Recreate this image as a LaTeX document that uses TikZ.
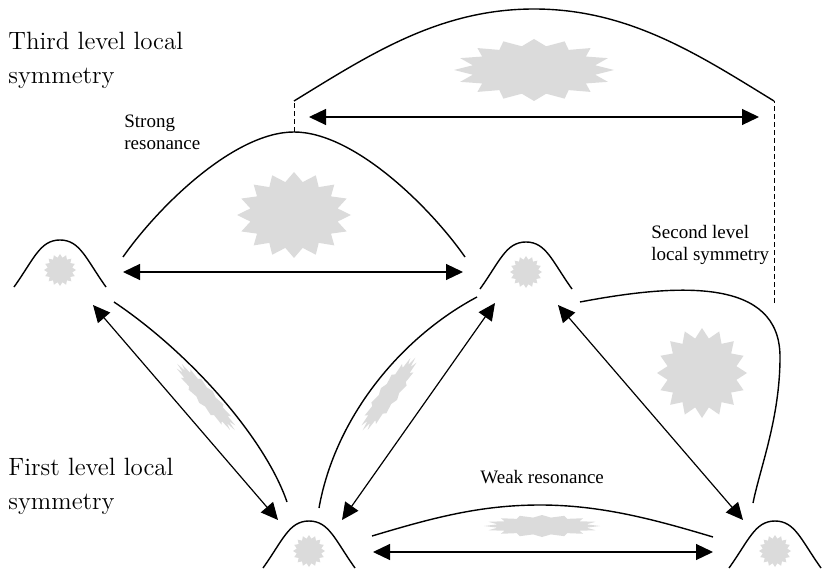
\documentclass[tikz,border=0pt]{standalone}
\usepackage{fontspec}
\newfontfamily\lblfont{Liberation Serif}
\usetikzlibrary{arrows.meta,calc}
\tikzset{
	curve/.style={line width=0.7pt},
	link/.style={line width=0.6pt,{Triangle[length=8.5pt,width=8pt]}-{Triangle[length=8.5pt,width=8pt]}},
	bound/.style={line width=0.5pt,dash pattern=on 2.5pt off 1.5pt},
	blobfill/.style={fill=gray!28},
	biglbl/.style={anchor=north west,inner sep=0pt,align=left,font=\fontsize{12.5}{17}\selectfont},
	smalllbl/.style={anchor=north west,inner sep=0pt,align=left,font=\lblfont\fontsize{9.5}{11}\selectfont},
	blob/.pic={\fill[blobfill] (0:1) \foreach \k in {1,...,31}{ -- ({11.25*\k}:{1-0.22*mod(\k,2)})} -- cycle;},
	hill/.pic={\draw[curve] (-46,-47) .. controls +(20,28) and +(-20,0) .. (0,0) .. controls +(20,0) and +(-20,28) .. (46,-47);
		\pic[scale=16] at (0,-30) {blob};}
}

\begin{document}
\begin{tikzpicture}[x=0.5pt,y=0.5pt]
	\useasboundingbox (0,0) rectangle (823,568);
	\coordinate (pa) at (60,328);
	\coordinate (pb) at (526,326);
	\coordinate (pc) at (309,47);
	\coordinate (pd) at (775,47);
	\coordinate (sr) at (294,436);
	\coordinate (sl) at (774,265);
	\coordinate (tp) at (534,559);
	\coordinate (wk) at (540,63);
	\coordinate (t1) at ($(sr)+(0,31)$);
	\coordinate (t2) at ($(sl)+(0,202)$);
	\pic at (pa) {hill};
	\pic at (pb) {hill};
	\pic at (pc) {hill};
	\pic at (pd) {hill};
	\draw[curve] ($(pa)+(63,-17)$) .. controls +(35,50) and +(-60,0) .. (sr) .. controls +(60,0) and +(-35,50) .. ($(pb)+(-61,-15)$);
	\pic[xscale=57,yscale=43] at ($(sr)+(0,-83)$) {blob};
	\draw[bound] (sr) -- (t1);
	\draw[bound] (sl) -- (t2);
	\draw[curve] (t1) .. controls +(75,46) and +(-95,0) .. (tp) .. controls +(95,0) and +(-75,46) .. (t2);
	\pic[xscale=80,yscale=31] at ($(tp)+(0,-61)$) {blob};
	\draw[curve] ($(pb)+(54,-60)$) .. controls +(100,19) and +(0,79) .. ($(sl)+(6,-54)$) .. controls +(0,-61) and +(7,35) .. ($(pd)+(-22,18)$);
	\pic[scale=45] at ($(sl)+(-72,-70)$) {blob};
	\draw[curve] ($(pc)+(63,-15)$) .. controls +(60,18) and +(-60,0) .. (wk) .. controls +(60,0) and +(-60,18) .. ($(pd)+(-62,-16)$);
	\pic[xscale=58,yscale=11] at ($(wk)+(2,-21)$) {blob};
	\draw[curve] ($(pa)+(54,-62)$) .. controls +(76,-51) and +(-22,64) .. ($(pc)+(-22,19)$);
	\pic[rotate=-49,xscale=44,yscale=9] at ($(pa)+(146,-157)$) {blob};
	\draw[curve] ($(pc)+(10,13)$) .. controls +(16,90) and +(-77,-41) .. ($(pb)+(-49,-55)$);
	\pic[rotate=54,xscale=45,yscale=10] at ($(pc)+(80,127)$) {blob};
	\draw[link] ($(pa)+(63,-32)$) -- ($(pb)+(-63,-30)$);
	\draw[link] ($(pa)+(33,-65)$) -- ($(pc)+(-31,1)$);
	\draw[link] ($(pc)+(33,1)$) -- ($(pb)+(-31,-61)$);
	\draw[link] ($(pb)+(32,-63)$) -- ($(pd)+(-32,1)$);
	\draw[link] ($(pc)+(64,-31)$) -- ($(pd)+(-62,-31)$);
	\draw[link] ($(t1)+(15,-16)$) -- ($(t2)+(-15,-16)$);
	\node (lthird) [biglbl] at (8,536) {Third level local\\symmetry};
	\node (lfirst) [biglbl] at (8,110) {First level local\\symmetry};
	\node (lstrong) [smalllbl] at (124,453) {Strong\\resonance};
	\node (lsecond) [smalllbl] at (651,343) {Second level\\local symmetry};
	\node (lweak) [smalllbl] at (480,98) {Weak resonance};
\end{tikzpicture}
\end{document}
